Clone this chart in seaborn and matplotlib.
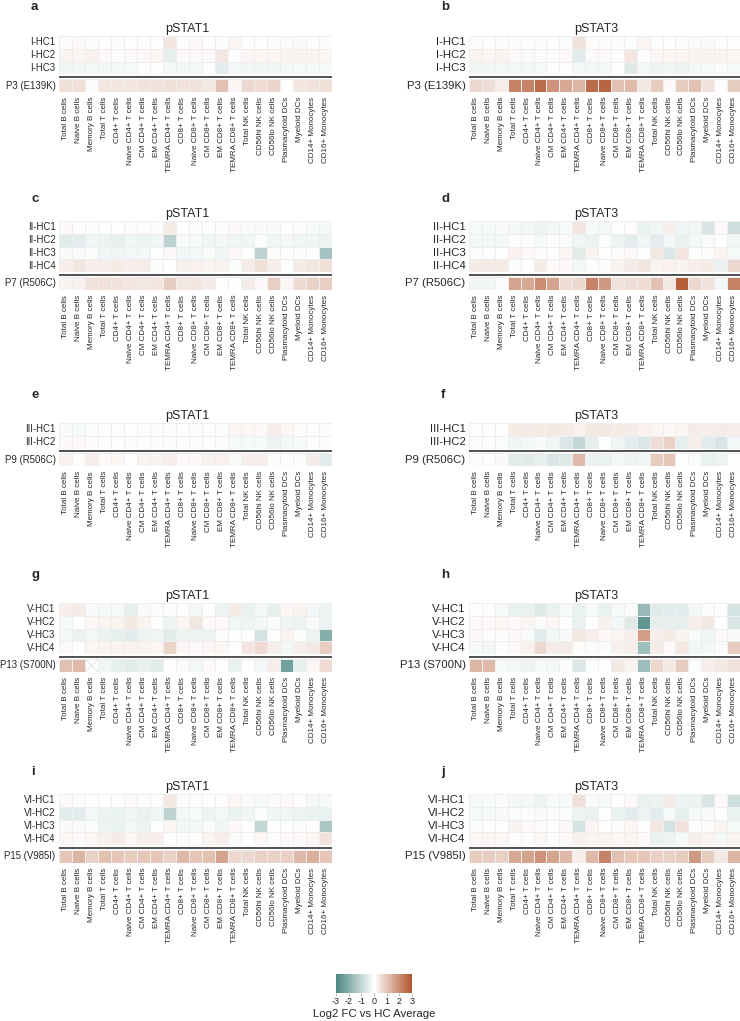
import numpy as np
import pandas as pd
import matplotlib
matplotlib.use("Agg")
import matplotlib.pyplot as plt
import seaborn as sns

# ------------------------------
# Data (log2 FC vs HC average)
# ------------------------------

cell_types = ["Total B cells", "Naive B cells", "Memory B cells", "Total T cells",
              "CD4+ T cells", "Naive CD4+ T cells", "CM CD4+ T cells", "EM CD4+ T cells",
              "TEMRA CD4+ T cells", "CD8+ T cells", "Naive CD8+ T cells", "CM CD8+ T cells",
              "EM CD8+ T cells", "TEMRA CD8+ T cells", "Total NK cells", "CD56hi NK cells",
              "CD56lo NK cells", "Plasmacytoid DCs", "Myeloid DCs", "CD14+ Monocytes",
              "CD16+ Monocytes"]

# group I
a_rows = ["I-HC1", "I-HC2", "I-HC3"]
a_hc = [[0.05, 0.1, -0.05, 0.05, 0.05, 0.0, 0.0, 0.0, 0.45, 0.05, 0.1, 0.0, -0.05, 0.15, 0.0, 0.0, 0.05, -0.1, -0.1, -0.05, -0.05],
        [0.2, 0.15, 0.25, 0.1, 0.05, 0.1, 0.1, 0.15, -0.4, 0.1, 0.1, 0.1, 0.45, 0.0, 0.15, 0.15, 0.15, 0.2, 0.2, 0.2, 0.15],
        [-0.25, -0.25, -0.2, -0.2, -0.2, -0.15, 0.0, 0.0, -0.2, -0.2, -0.2, -0.05, -0.45, -0.2, -0.25, -0.25, -0.25, -0.2, -0.15, -0.15, -0.15]]
a_pt_label = "P3 (E139K)"
a_pt = [0.55, 0.55, -0.05, 0.45, 0.45, 0.45, 0.5, 0.5, 0.55, 0.5, 0.5, 0.4, 1.1, 0.15, 0.7, 0.6, 0.75, 0.05, 0.45, 0.5, 0.55]

b_hc = [[0.05, 0.05, -0.05, 0.05, -0.05, -0.05, -0.05, -0.05, 0.5, 0.05, 0.05, -0.05, -0.05, 0.15, -0.05, 0.0, 0.05, -0.1, -0.1, -0.05, 0.0],
        [0.2, 0.15, 0.2, 0.1, 0.1, 0.05, 0.05, 0.1, -0.45, 0.1, 0.1, 0.05, 0.45, 0.0, 0.15, 0.15, 0.15, 0.2, 0.2, 0.2, 0.15],
        [-0.25, -0.25, -0.2, -0.2, -0.2, -0.15, -0.05, 0.0, -0.2, -0.2, -0.2, 0.0, -0.55, -0.2, -0.3, -0.25, -0.3, -0.2, -0.15, -0.1, -0.15]]
b_pt = [0.7, 0.6, 0.3, 2.2, 2.2, 2.6, 1.9, 1.5, 1.3, 2.6, 2.7, 1.1, 1.2, 0.4, 0.9, 0.1, 0.9, 1.1, 0.5, 0.05, 0.9]

# group II
c_rows = ["II-HC1", "II-HC2", "II-HC3", "II-HC4"]
c_hc = [[0.1, 0.0, -0.05, -0.05, 0.0, 0.05, 0.05, 0.05, 0.35, 0.05, 0.05, 0.0, 0.05, 0.1, -0.1, -0.1, -0.1, 0.05, 0.05, -0.15, -0.2],
        [-0.5, -0.45, -0.25, -0.3, -0.4, -0.25, -0.3, -0.25, -1.1, -0.15, -0.15, -0.25, -0.2, -0.25, -0.25, -0.05, -0.25, -0.2, -0.25, -0.25, -0.3],
        [-0.1, -0.1, -0.05, -0.25, -0.25, -0.2, -0.2, 0.0, 0.1, -0.2, -0.2, -0.1, -0.25, 0.1, 0.0, -1.1, 0.05, 0.0, -0.05, 0.0, -1.5],
        [0.3, 0.45, 0.3, 0.3, 0.35, 0.3, 0.35, 0.05, 0.0, 0.25, 0.25, 0.2, 0.2, -0.05, 0.35, 0.55, 0.3, -0.05, 0.35, 0.45, 0.55]]
c_pt_label = "P7 (R506C)"
c_pt = [0.2, 0.25, 0.5, 0.5, 0.5, 0.45, 0.45, 0.45, 0.9, 0.45, 0.45, 0.35, 0.0, 0.0, 0.35, 0.1, 0.85, 0.15, 0.65, 0.8, 0.85]

d_hc = [[-0.15, -0.15, -0.1, -0.2, -0.2, -0.3, -0.2, -0.15, 0.45, -0.15, -0.2, 0.0, 0.05, -0.35, -0.25, 0.3, -0.25, -0.25, -0.65, 0.1, -0.8],
        [-0.2, -0.2, -0.2, -0.05, -0.05, -0.15, -0.05, -0.1, -0.25, -0.3, -0.05, -0.3, -0.45, -0.25, -0.45, -0.2, -0.35, -0.2, -0.1, 0.0, -0.25],
        [-0.05, -0.05, 0.0, 0.25, 0.1, 0.05, 0.05, 0.15, -0.5, 0.2, 0.0, 0.05, 0.1, 0.0, 0.4, -0.6, 0.45, 0.0, 0.05, 0.2, -0.15],
        [0.35, 0.35, 0.35, -0.05, 0.0, 0.35, 0.1, 0.1, -0.2, 0.05, 0.05, 0.2, 0.35, 0.45, 0.2, 0.25, 0.2, 0.3, 0.35, -0.35, 0.7]]
d_pt = [-0.25, -0.25, -0.05, 1.6, 1.5, 2.0, 1.6, 0.6, 0.7, 2.2, 1.8, 0.5, 0.6, 0.6, 1.1, 0.4, 2.8, 0.7, 0.5, -0.2, 2.2]

# group III
e_rows = ["III-HC1", "III-HC2"]
e_hc = [[-0.1, -0.15, -0.05, 0.0, 0.0, 0.0, 0.05, 0.05, 0.05, 0.05, 0.05, 0.05, -0.05, 0.15, 0.15, 0.1, 0.3, 0.15, 0.05, 0.05, 0.05],
        [0.1, 0.1, 0.05, 0.0, 0.0, -0.05, -0.05, -0.05, -0.05, 0.0, -0.05, -0.05, -0.05, -0.15, -0.15, -0.15, -0.3, -0.2, -0.15, -0.05, -0.05]]
e_pt_label = "P9 (R506C)"
e_pt = [0.25, 0.05, 0.3, 0.1, 0.15, 0.0, 0.2, 0.2, 0.3, 0.1, 0.1, 0.25, 0.25, -0.1, 0.3, 0.3, 0.05, 0.0, 0.05, 0.35, -0.45]

f_hc = [[0.0, 0.0, 0.0, 0.35, 0.35, 0.35, 0.4, 0.35, 0.25, 0.4, 0.4, 0.35, 0.35, 0.25, 0.15, 0.1, 0.15, 0.35, 0.3, 0.35, 0.3],
        [-0.05, 0.0, -0.05, -0.25, -0.2, -0.1, -0.25, -0.6, -1.0, -0.4, 0.0, -0.25, -0.45, -0.6, 0.6, 0.8, -0.4, 0.3, -0.45, -0.65, -0.2]]
f_pt = [-0.05, -0.05, -0.1, -0.5, -0.5, -0.4, -0.65, -0.55, 1.2, -0.3, -0.35, -0.2, -0.3, -0.25, 0.9, 1.0, 0.0, -0.1, -0.35, -0.3, 0.0]

# group V
g_rows = ["V-HC1", "V-HC2", "V-HC3", "V-HC4"]
g_hc = [[0.3, 0.35, -0.1, -0.15, -0.15, -0.4, -0.1, 0.05, 0.05, -0.05, -0.2, 0.0, -0.3, 0.35, -0.35, -0.2, -0.4, 0.15, 0.2, -0.2, -0.3],
        [-0.15, 0.0, 0.15, 0.2, 0.2, 0.4, 0.2, 0.0, -0.3, 0.15, 0.45, 0.1, 0.1, -0.25, -0.25, -0.2, -0.1, -0.25, -0.3, -0.1, -0.3],
        [-0.2, -0.35, -0.2, -0.35, -0.4, -0.45, -0.3, -0.25, -0.5, -0.3, -0.3, -0.3, 0.05, 0.0, 0.0, -0.7, 0.0, 0.2, -0.05, -0.3, -2.0],
        [0.1, 0.0, 0.15, 0.2, 0.2, 0.2, 0.2, 0.15, 0.75, 0.15, 0.1, 0.15, 0.15, 0.0, 0.45, 0.65, 0.3, -0.2, 0.3, 0.4, 0.85]]
g_pt_label = "P13 (S700N)"
g_pt = [1.1, 1.2, np.nan, -0.25, -0.4, -0.5, -0.35, -0.5, 0.0, -0.1, -0.2, 0.1, 0.0, -0.35, 0.0, -0.2, 0.3, -2.3, -0.4, 0.15, 0.6]

h_hc = [[0.0, 0.05, -0.15, -0.35, -0.35, -0.55, -0.35, -0.15, -0.35, -0.15, -0.35, -0.15, -0.1, -1.7, -0.5, -0.45, -0.45, -0.2, -0.05, 0.0, -0.7],
        [0.1, 0.1, 0.15, 0.1, 0.15, -0.1, 0.15, 0.0, -0.35, 0.0, 0.25, -0.2, -0.55, -2.6, -0.4, -0.4, -0.4, 0.3, 0.4, 0.0, -0.6],
        [0.1, 0.05, 0.05, 0.1, -0.1, -0.45, -0.2, -0.1, 0.4, 0.3, 0.1, 0.15, 0.3, 1.7, 0.3, 0.35, 0.2, -0.1, -0.25, 0.1, -0.1],
        [-0.15, -0.2, -0.05, 0.1, 0.25, 0.7, 0.35, 0.35, 0.05, -0.05, -0.05, 0.25, 0.3, -1.6, 0.35, 0.1, 0.4, -0.2, -0.2, -0.1, 0.9]]
h_pt = [1.3, 1.2, -0.15, -0.2, -0.3, -0.15, -0.2, -0.05, -0.6, -0.05, 0.0, 0.4, 0.2, -1.6, 0.7, 0.4, 0.9, -0.05, 0.3, 0.4, 0.5]

# group VI
i_rows = ["VI-HC1", "VI-HC2", "VI-HC3", "VI-HC4"]
i_hc = [[0.1, 0.05, 0.0, 0.0, -0.05, 0.1, 0.05, 0.05, 0.4, 0.05, 0.05, 0.0, 0.05, 0.15, -0.1, -0.15, -0.1, 0.1, 0.05, -0.2, -0.15],
        [-0.45, -0.45, -0.2, -0.3, -0.35, -0.25, -0.35, -0.25, -1.1, -0.2, -0.15, -0.3, -0.2, -0.35, -0.25, -0.05, -0.25, -0.25, -0.3, -0.35, -0.35],
        [-0.1, -0.1, -0.05, -0.3, -0.35, -0.2, -0.3, 0.0, 0.15, -0.2, -0.2, -0.1, -0.25, 0.1, 0.0, -1.0, 0.0, -0.05, -0.05, 0.0, -1.4],
        [0.15, 0.1, 0.15, 0.25, 0.35, 0.15, 0.3, 0.3, 0.0, 0.05, 0.0, 0.2, 0.3, -0.1, 0.0, 0.15, -0.05, 0.1, 0.1, 0.15, 0.5]]
i_pt_label = "P15 (V985I)"
i_pt = [1.0, 1.3, 0.8, 1.1, 1.0, 0.9, 1.0, 1.0, 0.8, 1.2, 1.0, 1.1, 1.6, 0.7, 0.7, 0.8, 0.8, 0.8, 1.2, 1.4, 1.0]

j_hc = [[-0.15, -0.15, -0.1, -0.2, -0.2, -0.3, -0.15, -0.15, 0.55, -0.1, -0.15, 0.0, 0.1, -0.35, -0.3, 0.35, -0.3, -0.3, -0.65, 0.1, -0.8],
        [-0.15, -0.15, -0.1, -0.05, -0.05, -0.1, -0.1, -0.05, -0.3, -0.35, 0.0, -0.35, -0.45, -0.3, -0.45, -0.15, -0.4, -0.15, -0.1, 0.0, -0.35],
        [-0.05, -0.05, 0.0, 0.2, 0.1, 0.05, 0.05, 0.1, -0.7, 0.15, 0.0, 0.05, 0.15, 0.0, 0.45, -0.7, 0.5, 0.0, 0.05, 0.2, -0.15],
        [0.15, 0.15, 0.15, 0.0, 0.05, 0.15, 0.05, 0.1, 0.25, 0.2, 0.2, 0.15, 0.2, 0.1, -0.35, -0.3, -0.15, 0.3, 0.2, -0.2, 0.2]]
j_pt = [0.9, 0.9, 0.8, 1.5, 1.6, 1.9, 1.6, 1.2, 0.3, 1.2, 2.2, 1.1, 1.0, 1.0, 0.8, 0.8, 0.9, 1.8, 0.9, 0.4, 1.3]

# ------------------------------
# Style
# ------------------------------

sns.set_theme(style="white")
plt.rcParams['font.family'] = ['Liberation Sans', 'DejaVu Sans']
plt.rcParams['axes.unicode_minus'] = False

cmap = sns.blend_palette(["#4a8681", "#ffffff", "#b0552e"], as_cmap=True)

W, H = 740, 1021
fig = plt.figure(figsize=(W / 100, H / 100), dpi=100)

ROW_H = 12.8
GAP = 4.8
LEFT_X, LEFT_W = 59, 273
RIGHT_X, RIGHT_W = 469, 271


def px_axes(x, y, w, h):
    return fig.add_axes([x / W, 1 - (y + h) / H, w / W, h / H])


def draw_panel(letter, title, x, w, top, letter_y, hc_rows, hc_vals, pt_label, pt_vals, ylab_size):
    n = len(hc_rows)
    ax_hc = px_axes(x, top, w, n * ROW_H)
    ax_pt = px_axes(x, top + n * ROW_H + GAP, w, ROW_H)

    hc_df = pd.DataFrame(hc_vals, index=hc_rows, columns=cell_types)
    pt_df = pd.DataFrame([pt_vals], index=[pt_label], columns=cell_types)

    kw = dict(cmap=cmap, vmin=-3, vmax=3, center=0, cbar=False,
              linewidths=0.4, linecolor="#eeeeee", yticklabels=True)
    sns.heatmap(hc_df, ax=ax_hc, xticklabels=False, **kw)
    sns.heatmap(pt_df, ax=ax_pt, xticklabels=True, **kw)

    # missing value -> faint cross
    for k in np.where(pt_df.isna().values[0])[0]:
        ax_pt.plot([k, k + 1], [0, 1], color="#dddddd", lw=0.6)
        ax_pt.plot([k, k + 1], [1, 0], color="#dddddd", lw=0.6)

    # separator between healthy controls and patient
    ax_pt.plot([0, len(cell_types)], [-GAP / 2 / ROW_H] * 2, color="#333333",
               lw=1.2, clip_on=False, solid_capstyle="butt")

    for ax in (ax_hc, ax_pt):
        ax.set_xlabel("")
        ax.set_ylabel("")
        ax.tick_params(axis="y", length=1.5, width=0.5, color="#999999", pad=1,
                       labelsize=ylab_size, rotation=0)
    ax_hc.tick_params(axis="x", length=0)
    ax_pt.tick_params(axis="x", length=2, width=0.5, color="#999999", pad=1.5,
                      labelsize=5.8, rotation=90)

    ax_hc.set_title(title, fontsize=9, pad=3, x=0.47)
    fig.text((x - 28) / W, 1 - letter_y / H, letter, fontsize=9.5,
             fontweight="bold", ha="left", va="center")
    return ax_pt


panels = [
    ("a", "pSTAT1", "left", 36, 7, a_rows, a_hc, a_pt_label, a_pt),
    ("b", "pSTAT3", "right", 36, 7, a_rows, b_hc, a_pt_label, b_pt),
    ("c", "pSTAT1", "left", 221, 199, c_rows, c_hc, c_pt_label, c_pt),
    ("d", "pSTAT3", "right", 221, 199, c_rows, d_hc, c_pt_label, d_pt),
    ("e", "pSTAT1", "left", 423, 395, e_rows, e_hc, e_pt_label, e_pt),
    ("f", "pSTAT3", "right", 423, 395, e_rows, f_hc, e_pt_label, f_pt),
    ("g", "pSTAT1", "left", 603, 575, g_rows, g_hc, g_pt_label, g_pt),
    ("h", "pSTAT3", "right", 603, 575, g_rows, h_hc, g_pt_label, h_pt),
    ("i", "pSTAT1", "left", 794, 772, i_rows, i_hc, i_pt_label, i_pt),
    ("j", "pSTAT3", "right", 794, 772, i_rows, j_hc, i_pt_label, j_pt),
]

ax_last = None
for letter, title, side, top, ly, rows, hc, pl, pt in panels:
    if side == "left":
        ax_last = draw_panel(letter, title, LEFT_X, LEFT_W, top, ly, rows, hc, pl, pt, 6.9)
    else:
        draw_panel(letter, title, RIGHT_X, RIGHT_W, top, ly, rows, hc, pl, pt, 8.2)

# ------------------------------
# Colorbar
# ------------------------------

cax = px_axes(336, 974, 76, 19)
cb = fig.colorbar(ax_last.collections[0], cax=cax, orientation="horizontal")
cb.set_ticks([-3, -2, -1, 0, 1, 2, 3])
cb.outline.set_visible(False)
cax.tick_params(labelsize=6.5, length=2, width=0.5, color="#999999", pad=1)
cb.set_label("Log2 FC vs HC Average", fontsize=8.2, labelpad=2)

fig.savefig("out.png", dpi=100)
